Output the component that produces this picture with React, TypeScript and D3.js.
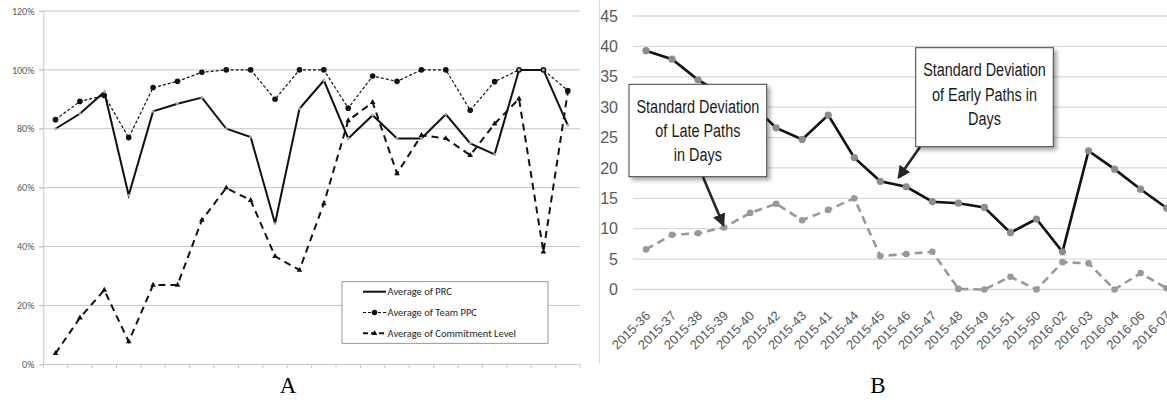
import React, { useEffect, useRef } from 'react';
import * as d3 from 'd3';

// Panel A: weekly averages (fraction of 1)
const prcValues = [0.8, 0.851, 0.925, 0.574, 0.859, 0.885, 0.906, 0.8, 0.772, 0.478, 0.868, 0.964, 0.767, 0.846, 0.767, 0.767, 0.849, 0.75, 0.713, 1.0, 1.0, 0.812];
const teamPpcValues = [0.831, 0.893, 0.913, 0.77, 0.94, 0.961, 0.992, 1.0, 1.0, 0.9, 1.0, 1.0, 0.87, 0.979, 0.961, 1.0, 1.0, 0.863, 0.96, 1.0, 1.0, 0.93];
const commitmentValues = [0.037, 0.158, 0.252, 0.077, 0.269, 0.269, 0.49, 0.599, 0.557, 0.367, 0.32, 0.546, 0.828, 0.89, 0.648, 0.778, 0.767, 0.71, 0.817, 0.902, 0.382, 0.925];
const aTicks = [0, 0.2, 0.4, 0.6, 0.8, 1.0, 1.2];
const aLegend = ['Average of PRC', 'Average of Team PPC', 'Average of Commitment Level'];

// Panel B: standard deviation in days per week
const weeks = ['2015-36', '2015-37', '2015-38', '2015-39', '2015-40', '2015-42', '2015-43', '2015-41', '2015-44', '2015-45', '2015-46', '2015-47', '2015-48', '2015-49', '2015-51', '2015-50', '2016-02', '2016-03', '2016-04', '2016-06', '2016-07'];
const earlyStd = [39.3, 37.9, 34.5, 32, 30.7, 26.6, 24.7, 28.7, 21.7, 17.8, 16.9, 14.45, 14.2, 13.5, 9.35, 11.6, 6.2, 22.8, 19.8, 16.5, 13.4];
const lateStd = [6.6, 9.0, 9.25, 10.2, 12.6, 14.1, 11.4, 13.1, 15.0, 5.5, 5.85, 6.2, 0.1, 0, 2.1, 0, 4.5, 4.3, 0, 2.7, 0.2];
const bTicks = [0, 5, 10, 15, 20, 25, 30, 35, 40, 45];
const lateLabel = ['Standard Deviation', 'of Late Paths', 'in Days'];
const earlyLabel = ['Standard Deviation', 'of Early Paths in', 'Days'];

const W = 1167;
const H = 400;

const App: React.FC = () => {
  const ref = useRef<SVGSVGElement>(null);

  useEffect(() => {
    if (!ref.current) return;
    const svg = d3.select(ref.current);
    svg.selectAll('*').remove();

    const defs = svg.append('defs');
    const f = defs.append('filter').attr('id', 'shadow').attr('x', '-10%').attr('y', '-10%').attr('width', '130%').attr('height', '130%');
    f.append('feDropShadow').attr('dx', 3).attr('dy', 3).attr('stdDeviation', 2).attr('flood-color', '#000').attr('flood-opacity', 0.35);
    defs.append('marker')
      .attr('id', 'arrow')
      .attr('viewBox', '0 0 10 10')
      .attr('refX', 8).attr('refY', 5)
      .attr('markerWidth', 5).attr('markerHeight', 5)
      .attr('orient', 'auto')
      .append('path').attr('d', 'M0,0L10,5L0,10z').attr('fill', '#262626');

    // ---------- Panel A ----------
    const idx = prcValues.map((_, i) => i);
    const xA = d3.scaleBand<number>().domain(idx).range([43.3, 580]);
    const yA = d3.scaleLinear().domain([0, 1.2]).range([364.3, 11]);
    const cxA = (i: number) => (xA(i) as number) + xA.bandwidth() / 2;
    const fontA = 'Carlito, "Liberation Sans", Arial, sans-serif';
    const a = svg.append('g').attr('font-family', fontA);

    a.selectAll('line.grid')
      .data(aTicks.slice(1))
      .enter()
      .append('line')
      .attr('x1', 39.3).attr('x2', 580)
      .attr('y1', d => yA(d)).attr('y2', d => yA(d))
      .attr('stroke', '#c6c6c6').attr('stroke-width', 1);

    a.append('g')
      .attr('transform', 'translate(43.3,0)')
      .call(d3.axisLeft(yA).tickValues(aTicks).tickFormat(d3.format('.0%')).tickSize(4))
      .call(g => g.select('.domain').attr('stroke', '#c6c6c6'))
      .call(g => g.selectAll('line').attr('stroke', '#c6c6c6'))
      .call(g => g.selectAll('text').attr('fill', '#595959').attr('font-size', 10).attr('font-family', fontA).attr('dx', -2));

    a.append('line')
      .attr('x1', 43.3).attr('x2', 580).attr('y1', yA(0)).attr('y2', yA(0))
      .attr('stroke', '#c6c6c6');
    a.selectAll('line.xt')
      .data(idx.concat([idx.length]))
      .enter()
      .append('line')
      .attr('x1', d => 43.3 + d * xA.step()).attr('x2', d => 43.3 + d * xA.step())
      .attr('y1', yA(0)).attr('y2', yA(0) + 4)
      .attr('stroke', '#c6c6c6');

    const lineA = d3.line<number>().x((_, i) => cxA(i)).y(d => yA(d));

    a.append('path').datum(commitmentValues)
      .attr('fill', 'none').attr('stroke', '#111').attr('stroke-width', 2)
      .attr('stroke-dasharray', '7,5').attr('d', lineA);
    a.append('path').datum(teamPpcValues)
      .attr('fill', 'none').attr('stroke', '#111').attr('stroke-width', 1.2)
      .attr('stroke-dasharray', '3,2').attr('d', lineA);
    a.append('path').datum(prcValues)
      .attr('fill', 'none').attr('stroke', '#111').attr('stroke-width', 2).attr('d', lineA);

    a.selectAll('circle.ppc').data(teamPpcValues).enter().append('circle')
      .attr('cx', (_, i) => cxA(i)).attr('cy', d => yA(d)).attr('r', 2.8).attr('fill', '#111');
    a.selectAll('circle.prc').data(prcValues).enter().append('circle')
      .attr('cx', (_, i) => cxA(i)).attr('cy', d => yA(d)).attr('r', 1.4).attr('fill', '#8fb4d6');
    const tri = d3.symbol().type(d3.symbolTriangle).size(14);
    a.selectAll('path.tri').data(commitmentValues).enter().append('path')
      .attr('d', tri).attr('fill', '#111')
      .attr('transform', (d, i) => `translate(${cxA(i)},${yA(d)})`);

    // legend
    const lg = a.append('g');
    lg.append('rect').attr('x', 342).attr('y', 281.7).attr('width', 206).attr('height', 61.6)
      .attr('fill', '#fff').attr('stroke', '#7f7f7f').attr('stroke-width', 0.8);
    const legRows = lg.selectAll('g.row').data(aLegend).enter().append('g')
      .attr('transform', (_, i) => `translate(363,${291.7 + i * 20.8})`);
    legRows.append('line').attr('x1', 0).attr('x2', 23).attr('y1', 0).attr('y2', 0)
      .attr('stroke', '#111')
      .attr('stroke-width', (_, i) => (i === 1 ? 1.2 : 2))
      .attr('stroke-dasharray', (_, i) => (i === 0 ? null : i === 1 ? '3,2' : '5,3'));
    legRows.filter((_, i) => i === 1).append('circle').attr('cx', 11.5).attr('r', 2.8).attr('fill', '#111');
    legRows.filter((_, i) => i === 2).append('path').attr('d', tri).attr('fill', '#111').attr('transform', 'translate(11.5,0)');
    legRows.append('text').attr('x', 24.5).attr('y', 0).attr('dy', '0.35em')
      .attr('font-size', 10.5).attr('fill', '#262626').text(d => d);

    svg.append('text').attr('x', 288).attr('y', 393).attr('text-anchor', 'middle')
      .attr('font-family', '"Liberation Serif", "Times New Roman", serif').attr('font-size', 23).attr('fill', '#000').text('A');

    // ---------- Panel B ----------
    const xB = d3.scaleBand<string>().domain(weeks).range([633, 633 + 26.03 * weeks.length]);
    const yB = d3.scaleLinear().domain([0, 45]).range([289.5, 16]);
    const cxB = (w: string) => (xB(w) as number) + xB.bandwidth() / 2;
    const fontB = '"Liberation Sans", Arial, sans-serif';
    const b = svg.append('g').attr('font-family', fontB);

    b.append('line').attr('x1', 599.5).attr('x2', 599.5).attr('y1', 0).attr('y2', 363).attr('stroke', '#d9d9d9');

    b.selectAll('line.grid').data(bTicks).enter().append('line')
      .attr('x1', 633).attr('x2', W)
      .attr('y1', d => yB(d)).attr('y2', d => yB(d))
      .attr('stroke', '#d9d9d9').attr('stroke-width', 1.3);

    b.append('g')
      .attr('transform', 'translate(633,0)')
      .call(d3.axisLeft(yB).tickValues(bTicks).tickSize(0).tickPadding(15))
      .call(g => g.select('.domain').remove())
      .call(g => g.selectAll('text').attr('fill', '#595959').attr('font-size', 16).attr('font-family', fontB));

    b.append('g')
      .attr('transform', `translate(0,${yB(0)})`)
      .call(d3.axisBottom(xB).tickSize(0).tickPadding(0))
      .call(g => g.select('.domain').remove())
      .call(g => g.selectAll('text')
        .attr('fill', '#595959').attr('font-size', 13)
        .attr('font-family', fontB)
        .attr('text-anchor', 'end')
        .attr('y', 0).attr('dy', 0)
        .attr('transform', 'translate(5,27) rotate(-45)'));

    const lineB = d3.line<number>().x((_, i) => cxB(weeks[i])).y(d => yB(d));
    b.append('path').datum(lateStd)
      .attr('fill', 'none').attr('stroke', '#999').attr('stroke-width', 2.6)
      .attr('stroke-dasharray', '8,5').attr('d', lineB);
    b.append('path').datum(earlyStd)
      .attr('fill', 'none').attr('stroke', '#111').attr('stroke-width', 2.6).attr('d', lineB);
    b.selectAll('circle.late').data(lateStd).enter().append('circle')
      .attr('cx', (_, i) => cxB(weeks[i])).attr('cy', d => yB(d)).attr('r', 3.3).attr('fill', '#999');
    b.selectAll('circle.early').data(earlyStd).enter().append('circle')
      .attr('cx', (_, i) => cxB(weeks[i])).attr('cy', d => yB(d)).attr('r', 3.6).attr('fill', '#8c8c8c');

    // callouts
    const callout = (x: number, y: number, w: number, h: number, lines: string[], tail: [number, number], tip: [number, number]) => {
      const g = b.append('g');
      g.append('line')
        .attr('x1', tail[0]).attr('y1', tail[1]).attr('x2', tip[0]).attr('y2', tip[1])
        .attr('stroke', '#262626').attr('stroke-width', 2.6).attr('marker-end', 'url(#arrow)');
      g.append('rect').attr('x', x).attr('y', y).attr('width', w).attr('height', h)
        .attr('fill', '#fff').attr('stroke', '#404040').attr('stroke-width', 1)
        .attr('filter', 'url(#shadow)');
      g.selectAll('text').data(lines).enter().append('text')
        .attr('transform', (_, i) => `translate(${x + w / 2},${y + 28.5 + i * 24.3}) scale(0.76,1)`)
        .attr('text-anchor', 'middle').attr('font-size', 19).attr('fill', '#1a1a1a')
        .text(d => d);
    };
    callout(629, 84.3, 137.7, 92.4, lateLabel, [703, 177], [cxB('2015-39') - 1, yB(lateStd[3]) - 3]);
    callout(915.7, 47.7, 137.6, 99, earlyLabel, [920, 147], [899, 177]);

    svg.append('text').attr('x', 878).attr('y', 393).attr('text-anchor', 'middle')
      .attr('font-family', '"Liberation Serif", "Times New Roman", serif').attr('font-size', 23).attr('fill', '#000').text('B');
  }, []);

  return <svg ref={ref} width={W} height={H} style={{ position: 'absolute', left: 0, top: 0, background: '#fff' }} />;
};

export default App;
